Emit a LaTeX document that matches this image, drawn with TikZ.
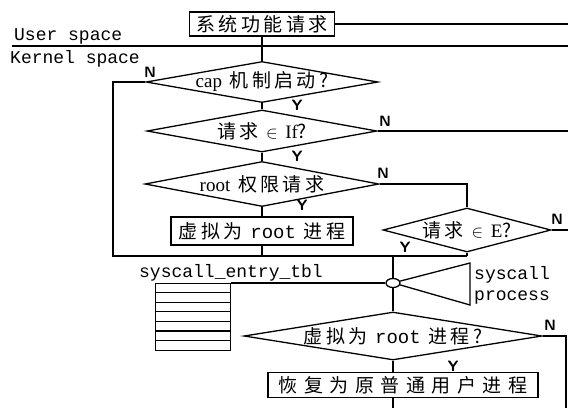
\documentclass[tikz,border=0pt]{standalone}
\usepackage{fontspec}
\usepackage{tikz}
\usetikzlibrary{shapes.geometric, positioning, calc}
\setmainfont{Liberation Serif}
\setmonofont{Liberation Mono}
\newfontfamily\cjk{Noto Sans CJK SC}[LetterSpace=18]
\tikzset{
  flow/.style={line width=1.3pt, color=black},
  procbox/.style={rectangle, draw, line width=1.5pt, inner sep=1pt,
    font=\cjk\fontsize{19}{21}\selectfont},
  decision/.style={diamond, draw, line width=1.3pt, aspect=1, inner sep=0pt,
    font=\cjk\fontsize{19}{21}\selectfont,
    execute at begin node=\hbox to 0pt\bgroup\hss,
    execute at end node=\hss\egroup},
  ynlabel/.style={font=\sffamily\bfseries\fontsize{15}{15}\selectfont, inner sep=0pt},
  spacelabel/.style={font=\ttfamily\fontsize{18}{21}\selectfont, inner sep=0pt}
}

\begin{document}
\begin{tikzpicture}[x=1pt, y=-1pt]
  \useasboundingbox (0,0) rectangle (568,408);
  \coordinate (edge) at (568,0);
  \coordinate (rb) at (566,408);
  \coordinate (mrg) at (113,256);

  % User / kernel boundary
  \draw[flow] (12,46) -- (568,46);
  \node[spacelabel, anchor=base west] (user) at (14,40) {User space};
  \node[spacelabel, anchor=base west] (kernel) at (10,63) {Kernel space};

  % Checks in kernel space
  \node[procbox, minimum width=145, minimum height=24] (req) at (262,24) {系统功能请求};
  \node[decision, minimum width=232, minimum height=41] (cap) at (262,82) {{\rmfamily cap} 机制启动?};
  \node[decision, minimum width=230, minimum height=42] (inIf) at (262,131) {请求 $\in$ {\rmfamily If}?};
  \node[decision, minimum width=234, minimum height=45] (rootreq) at (262,184) {{\rmfamily root} 权限请求};
  \node[procbox, minimum width=182, minimum height=28] (virt) at (262,231) {虚拟为 {\ttfamily root} 进程};
  \node[decision, minimum width=168, minimum height=44] (inE) at (467,230) {请求 $\in$ {\rmfamily E}?};

  % Syscall table and dispatch
  \node[draw, flow, minimum width=75, minimum height=67, anchor=north west, inner sep=0pt] (tbl) at (155,283) {};
  \foreach \k in {1,...,6}
    \draw[flow] ($(tbl.north west)+(0,9.6*\k)$) -- ($(tbl.north east)+(0,9.6*\k)$);
  \node[spacelabel, anchor=base] (tbllabel) at (231,277) {syscall\_entry\_tbl};
  \node[draw, ellipse, flow, minimum width=14, minimum height=9, inner sep=0pt] (hook) at (393,283) {};
  \coordinate (trtop) at (470,263);
  \coordinate (trbot) at (470,305);
  \draw[flow] (hook.15) -- (trtop) -- (trbot) -- (hook.-15);
  \node[spacelabel, anchor=west, align=left] (sysproc) at (474,285) {syscall\\process};

  % Return path
  \node[decision, minimum width=298, minimum height=48] (isroot) at (393,336) {虚拟为 {\ttfamily root} 进程?};
  \node[procbox, minimum width=270, minimum height=25] (restore) at (403,385) {\addfontfeature{LetterSpace=34}恢复为原普通用户进程};

  % Connectors
  \draw[flow] (req.south) -- (cap.north);
  \draw[flow] (req.east) -- (req.east -| edge);
  \draw[flow] (cap.south) -- (inIf.north);
  \draw[flow] (inIf.south) -- (rootreq.north);
  \draw[flow] (rootreq.south) -- (virt.north);
  \draw[flow] (inIf.east) -- (inIf.east -| edge);
  \draw[flow] (rootreq.east) -| (inE.north);
  \draw[flow] (inE.east) -- (inE.east -| edge);
  \draw[flow] (cap.west) -| (mrg) -- (mrg -| inE.south);
  \draw[flow] (virt.south) -- (virt.south |- mrg);
  \draw[flow] (inE.south) -- (inE.south |- mrg);
  \draw[flow] (hook.north |- mrg) -- (hook.north);
  \draw[flow] (tbl.north east) -- (hook.west);
  \draw[flow] (hook.south) -- (isroot.north);
  \draw[flow] (isroot.south) -- (isroot.south |- restore.north);
  \draw[flow] (isroot.south |- restore.south) -- (isroot.south |- rb);
  \draw[flow] (isroot.east) -| (rb);

  % Y / N marks
  \node[ynlabel] (n1) at (150,72) {N};
  \node[ynlabel] (y1) at (297,105) {Y};
  \node[ynlabel] (n2) at (385,121) {N};
  \node[ynlabel] (y2) at (297,156) {Y};
  \node[ynlabel] (n3) at (383,173) {N};
  \node[ynlabel] (y3) at (302,205) {Y};
  \node[ynlabel] (n4) at (557,219) {N};
  \node[ynlabel] (y4) at (405,247) {Y};
  \node[ynlabel] (n5) at (550,325) {N};
  \node[ynlabel] (y5) at (453,366) {Y};
\end{tikzpicture}
\end{document}
